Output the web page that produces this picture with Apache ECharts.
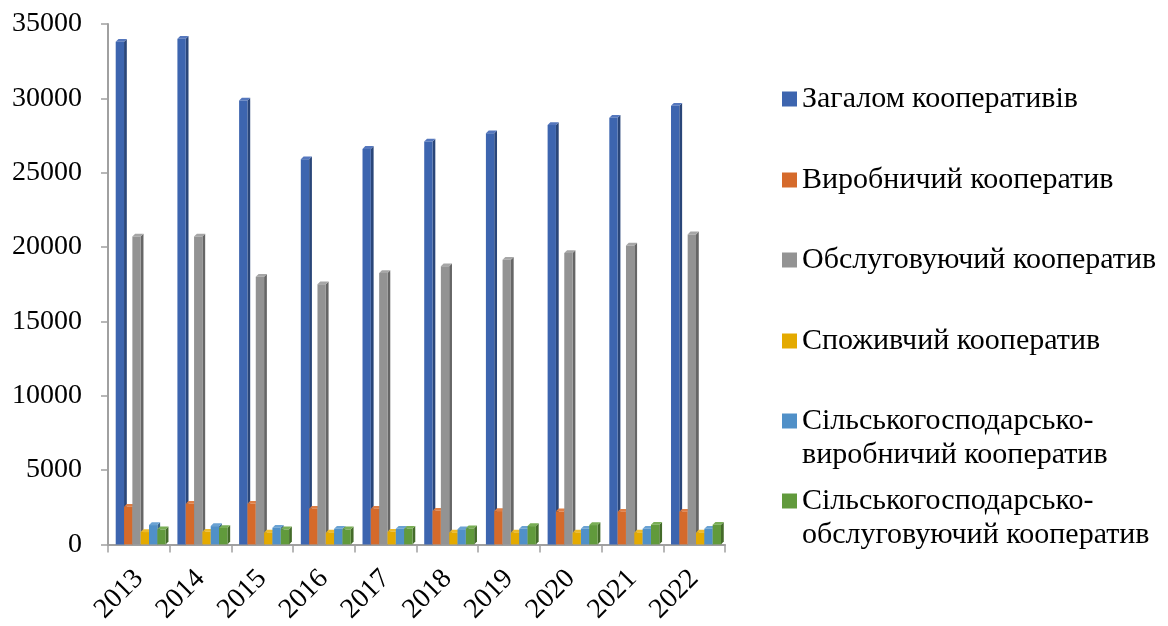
<!DOCTYPE html>
<html>
<head>
<meta charset="utf-8">
<script src="https://cdn.jsdelivr.net/npm/echarts@6/dist/echarts.min.js"></script>
<style>html,body{margin:0;padding:0;background:#fff;}#chart{width:1168px;height:626px;}</style>
</head>
<body>
<div id="chart"></div>
<script>
const years = ['2013','2014','2015','2016','2017','2018','2019','2020','2021','2022'];
const seriesNames = [
  'Загалом кооперативів',
  'Виробничий кооператив',
  'Обслуговуючий кооператив',
  'Споживчий кооператив',
  'Сільськогосподарсько-виробничий кооператив',
  'Сільськогосподарсько-обслуговуючий кооператив'
];
const total      = [33800, 34000, 29850, 25900, 26600, 27100, 27650, 28200, 28700, 29500];
const production = [2530, 2730, 2730, 2400, 2400, 2260, 2240, 2220, 2200, 2200];
const service    = [20700, 20700, 18000, 17500, 18250, 18700, 19150, 19600, 20100, 20850];
const consumer   = [830, 850, 790, 790, 850, 790, 790, 790, 790, 790];
const agriProd   = [1300, 1230, 1120, 1050, 1050, 1020, 1050, 1050, 1050, 1050];
const agriServ   = [1010, 1100, 1010, 1010, 1050, 1080, 1230, 1300, 1320, 1320];
const yTicks = { min: 0, max: 35000, interval: 5000 };

const allValues = [total, production, service, consumer, agriProd, agriServ];
const colors = ['#3D65AF', '#D56A2B', '#939393', '#E4AA00', '#5090C8', '#619A3C'];
const sideColors = ['#2A4679', '#954A1E', '#666666', '#A07700', '#38658C', '#446B2A'];
const topColors = ['#5577BD', '#DE7E45', '#A6A6A6', '#EDBB2A', '#6AA2D3', '#79AE55'];

const FONT = '"Liberation Serif", "Times New Roman", serif';

function makeRender(s) {
  return function (params, api) {
    const ci = api.value(0);
    const v = api.value(1);
    const base = api.coord([ci, 0]);
    const top = api.coord([ci, v]);
    const band = api.size([1, 0])[0];
    const catStart = base[0] - band / 2;
    const bw = band * 0.135;
    const d = band * 0.045;
    const x0 = catStart + band * (0.125 + s * 0.135);
    const yt = top[1], yb = base[1];
    return {
      type: 'group',
      children: [
        { type: 'polygon', shape: { points: [[x0 + bw, yt], [x0 + bw + d, yt - d], [x0 + bw + d, yb - d], [x0 + bw, yb]] }, style: { fill: sideColors[s] } },
        { type: 'polygon', shape: { points: [[x0, yt], [x0 + d, yt - d], [x0 + bw + d, yt - d], [x0 + bw, yt]] }, style: { fill: topColors[s] } },
        { type: 'rect', shape: { x: x0, y: yt, width: bw, height: yb - yt }, style: { fill: colors[s] } }
      ]
    };
  };
}

const series = allValues.map((vals, s) => ({
  type: 'custom',
  name: seriesNames[s],
  data: vals.map((v, i) => [i, v]),
  encode: { x: 0, y: 1 },
  itemStyle: { color: colors[s] },
  renderItem: makeRender(s),
  clip: false
}));

const legendCenters = [99, 180, 260, 341, 421, 501];
const LH = 34;
const legends = seriesNames.map((name, i) => {
  const twoLine = i >= 4;
  return {
    data: [name],
    left: 782,
    top: twoLine ? legendCenters[i] - LH * 1.5 : legendCenters[i] - LH / 2,
    padding: 0,
    itemWidth: 15,
    itemHeight: 15,
    icon: 'rect',
    selectedMode: false,
    formatter: function (n) {
      if (n.indexOf('Сільськогосподарсько-') === 0) {
        return '\u00a0\n' + n.replace('Сільськогосподарсько-', 'Сільськогосподарсько-\n');
      }
      return n;
    },
    textStyle: {
      fontFamily: FONT,
      fontSize: 30,
      color: '#000',
      lineHeight: LH
    }
  };
});

const chart = echarts.init(document.getElementById('chart'), null, { renderer: 'canvas' });
chart.setOption({
  animation: false,
  backgroundColor: '#ffffff',
  grid: { left: 108, right: 443, top: 24, bottom: 81, containLabel: false },
  legend: legends,
  xAxis: {
    type: 'category',
    data: years,
    boundaryGap: true,
    axisLine: { show: true, lineStyle: { color: '#A0A0A0', width: 2 } },
    axisTick: { show: true, length: 8, lineStyle: { color: '#A0A0A0', width: 1.5 } },
    axisLabel: { rotate: 45, margin: 30, fontFamily: FONT, fontSize: 28, color: '#000' },
    splitLine: { show: false }
  },
  yAxis: {
    type: 'value',
    min: yTicks.min,
    max: yTicks.max,
    interval: yTicks.interval,
    axisLine: { show: true, lineStyle: { color: '#A0A0A0', width: 2 } },
    axisTick: { show: true, length: 7, lineStyle: { color: '#A0A0A0', width: 1.5 } },
    axisLabel: { margin: 26, fontFamily: FONT, fontSize: 28, color: '#000', formatter: function (v) { return String(v); } },
    splitLine: { show: false }
  },
  series: series
});
</script>
</body>
</html>
